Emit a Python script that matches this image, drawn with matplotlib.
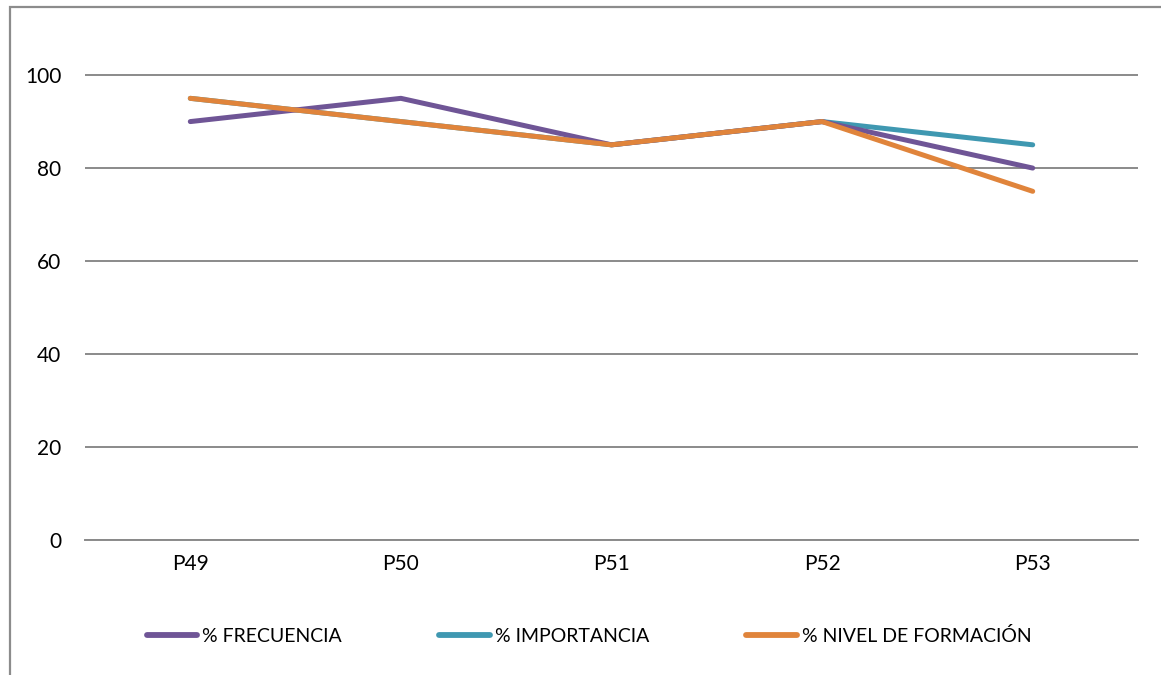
import matplotlib
matplotlib.use("Agg")
import matplotlib.pyplot as plt
from matplotlib.patches import Rectangle

# ------------------------------------------------------------------ data
categories = ["P49", "P50", "P51", "P52", "P53"]
frecuencia = [90, 95, 85, 90, 80]
importancia = [95, 90, 85, 90, 85]
nivel_formacion = [95, 90, 85, 90, 75]
yticks = [0, 20, 40, 60, 80, 100]

plt.rcParams["font.family"] = ["Lato", "DejaVu Sans"]

W, H = 1161, 675
fig = plt.figure(figsize=(W / 100, H / 100), dpi=100)

# outer chart frame (extends past right/bottom edge, as in the reference)
fig.patches.append(Rectangle((10 / W, -0.1), 1.2, 1 - 7 / H + 0.1,
                             transform=fig.transFigure, fill=False,
                             edgecolor="#8c8c8c", lw=1.6))

ax = fig.add_axes([85 / W, 1 - 540 / H, (1138 - 85) / W, (540 - 10) / H])
x = range(len(categories))
ax.plot(x, frecuencia, color="#6f5596", lw=3.6, solid_capstyle="round",
        label="% FRECUENCIA", zorder=3)
ax.plot(x, importancia, color="#3f98b1", lw=3.6, solid_capstyle="round",
        label="% IMPORTANCIA", zorder=2)
ax.plot(x, nivel_formacion, color="#e0843b", lw=3.6, solid_capstyle="round",
        label="% NIVEL DE FORMACIÓN", zorder=4)

ax.set_xlim(-0.5, len(categories) - 0.5)
ax.set_ylim(0, 114)
ax.set_yticks(yticks)
ax.set_xticks(list(x))
ax.set_xticklabels(categories)
ax.grid(axis="y", color="#8a8a8a", lw=1.4)
ax.set_axisbelow(True)
for s in ("top", "right", "left"):
    ax.spines[s].set_visible(False)
ax.spines["bottom"].set_color("#8a8a8a")
ax.spines["bottom"].set_linewidth(1.4)
ax.tick_params(axis="both", length=0, labelsize=15, colors="black")
ax.tick_params(axis="y", pad=17)
ax.tick_params(axis="x", pad=10)

leg = fig.legend(loc="center", bbox_to_anchor=(589 / W, 1 - 636 / H), ncol=3,
                 frameon=False, fontsize=14, handlelength=2.6,
                 handletextpad=0.25, columnspacing=5.0)
for line in leg.get_lines():
    line.set_linewidth(4.2)

fig.savefig("out.png", dpi=100)
